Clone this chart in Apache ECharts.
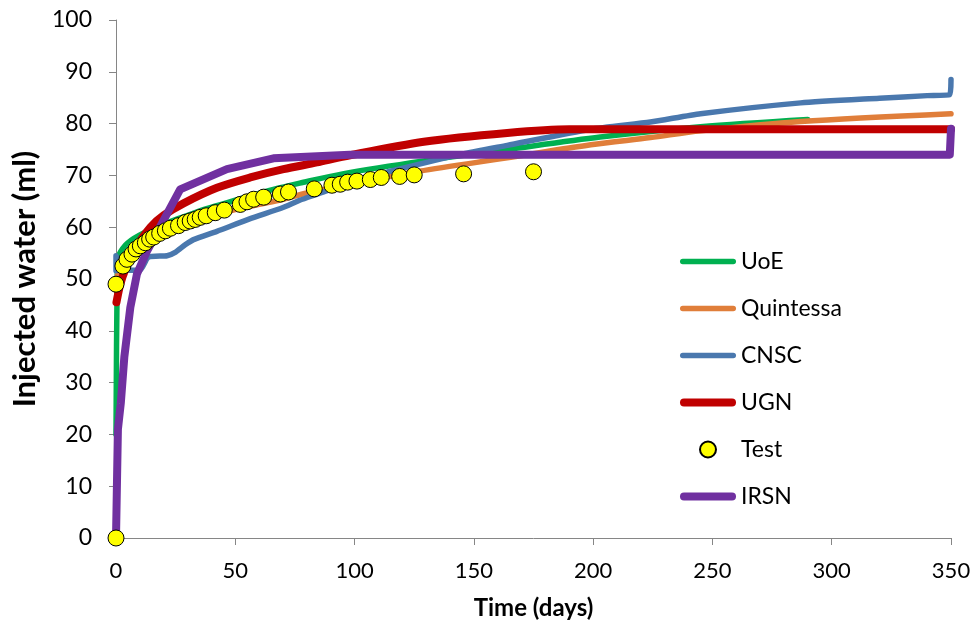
<!DOCTYPE html>
<html>
<head>
<meta charset="utf-8">
<script src="https://cdn.jsdelivr.net/npm/echarts@6/dist/echarts.min.js"></script>
<style>
html,body{margin:0;padding:0;background:#fff;}
#chart{width:976px;height:628px;}
</style>
</head>
<body>
<div id="chart"></div>
<script>
// ---- data (time in days, injected water in ml) ----
const uoe = [[0,20],[0.5,50],[1.1,54.4],[3.9,56.5],[7.4,57.8],[12,59],[18.6,60.4],[27,61.8],[38,63.6],[50,65.2],[66,67.3],[77,68.5],[95,70.3],[129,72.8],[164,75],[203,77.4],[245,79.4],[290,80.8]];
const quintessa = [[0,48],[1,51.5],[3,53],[6,54.5],[10,56],[15,57.5],[20,58.7],[30,60.6],[40,62.1],[50,63.4],[60,64.4],[70,65.4],[80,66.6],[100,68.5],[127,70.8],[164,73.4],[199,75.9],[224,77.3],[245,78.6],[287,80.4],[350,81.9]];
const cnsc = [[0,51.6],[0,54.5],[2,51.7],[10,51.7],[13.5,54.2],[21.4,54.5],[25,55.2],[29,56.6],[32.5,57.6],[42.3,59.2],[56,61.6],[70,63.8],[77,65.2],[87,66.8],[98,68.8],[115,70.8],[145,74.1],[164,75.8],[199,78.9],[224,80.3],[245,81.9],[287,84],[320,84.9],[340,85.4],[349.5,85.6],[350,88.5]];
const ugn = [[0.2,45.5],[1.8,49],[4,52],[7.4,55.4],[14.4,60],[20,62.3],[28.3,64.6],[42.3,67.6],[56.3,69.6],[70.2,71.2],[84.2,72.5],[96,73.7],[129,76.5],[164,78.2],[190,78.9],[350,78.9]];
const test = [[0,0],[0,49],[2.9,52.5],[4.6,53.8],[6.7,54.8],[8.4,55.8],[10.2,56.4],[12.3,57],[14.1,57.7],[15.8,58.1],[18.3,58.8],[20.7,59.3],[22.8,59.8],[26.2,60.3],[29,60.9],[31.1,61.2],[33.2,61.5],[35.3,61.9],[37.8,62.2],[41.6,62.8],[45.4,63.3],[52.1,64.4],[54.9,64.9],[57.7,65.4],[61.9,65.8],[68.9,66.4],[72.3,66.8],[83.1,67.4],[90.5,68.1],[94,68.3],[97.1,68.7],[101,68.9],[106.6,69.2],[111.2,69.6],[118.9,69.8],[125,70.1],[145.7,70.3],[175,70.7]];
const irsn = [[0,0],[0.8,21],[2,26],[3.5,35],[6,44.5],[8.8,51],[13,55.4],[26.9,67.3],[46.5,71.2],[66,73.3],[98,74],[349.5,74],[350,79]];
const seriesNames = ['UoE','Quintessa','CNSC','UGN','Test','IRSN'];
const xTicks = {min:0, max:350, interval:50};
const yTicks = {min:0, max:100, interval:10};

const FONT = 'Lato';
const axisGray = '#868686';

// legend line icon (rounded bar), keeps aspect inside itemWidth x itemHeight
function barIcon(h){
  const r = h/2;
  return 'path://M' + r + ',0 L' + (56-r) + ',0 A' + r + ',' + r + ' 0 0 1 ' + (56-r) + ',' + h +
         ' L' + r + ',' + h + ' A' + r + ',' + r + ' 0 0 1 ' + r + ',0 Z';
}

function lineSeries(name, data, color, width, smooth, z){
  return {
    name, type:'line', data, symbol:'none', clip:false, animation:false,
    smooth: smooth, z: z,
    lineStyle:{color, width, cap:'round', join:'round'},
    itemStyle:{color}
  };
}

const chart = echarts.init(document.getElementById('chart'), null, {renderer:'canvas'});
chart.setOption({
  backgroundColor:'#fff',
  animation:false,
  grid:{left:116, right:25, top:20, bottom:90, containLabel:false},
  legend:{
    orient:'vertical', left:680, top:250, padding:0,
    itemWidth:56, itemHeight:16, itemGap:24,
    data:[
      {name:seriesNames[0], icon:barIcon(5.5)},
      {name:seriesNames[1], icon:barIcon(5.5)},
      {name:seriesNames[2], icon:barIcon(5.5)},
      {name:seriesNames[3], icon:barIcon(8)},
      {name:seriesNames[4], icon:'circle'},
      {name:seriesNames[5], icon:barIcon(8)}
    ],
    textStyle:{fontFamily:FONT, fontSize:23, color:'#000'}
  },
  xAxis:{
    type:'value', min:xTicks.min, max:xTicks.max, interval:xTicks.interval,
    name:'Time (days)', nameLocation:'middle', nameGap:58,
    nameTextStyle:{fontFamily:FONT, fontSize:24, fontWeight:'bold', color:'#000'},
    axisLine:{show:true, lineStyle:{color:axisGray, width:1}},
    axisTick:{show:true, length:7, lineStyle:{color:axisGray}},
    axisLabel:{fontFamily:FONT, fontSize:22, color:'#000', margin:22},
    splitLine:{show:false}
  },
  yAxis:{
    type:'value', min:yTicks.min, max:yTicks.max, interval:yTicks.interval,
    name:'Injected water (ml)', nameLocation:'middle', nameGap:76, nameRotate:90,
    nameTextStyle:{fontFamily:FONT, fontSize:31, fontWeight:'bold', color:'#000'},
    axisLine:{show:true, lineStyle:{color:axisGray, width:1}},
    axisTick:{show:true, length:7, lineStyle:{color:axisGray}},
    axisLabel:{fontFamily:FONT, fontSize:23, color:'#000', margin:24},
    splitLine:{show:false}
  },
  series:[
    lineSeries(seriesNames[0], uoe, '#00B050', 5.5, 0.3, 2),
    lineSeries(seriesNames[1], quintessa, '#E07E3A', 5.5, 0.3, 2),
    lineSeries(seriesNames[2], cnsc, '#4A78AE', 5.5, 0.2, 2),
    lineSeries(seriesNames[3], ugn, '#C00000', 8, 0.3, 2),
    {
      name:seriesNames[4], type:'scatter', data:test, symbol:'circle', symbolSize:16, clip:false, z:5,
      itemStyle:{color:'#FFFF00', borderColor:'#000', borderWidth:1, opacity:1}
    },
    lineSeries(seriesNames[5], irsn, '#7030A0', 8, false, 4)
  ]
});
</script>
</body>
</html>
